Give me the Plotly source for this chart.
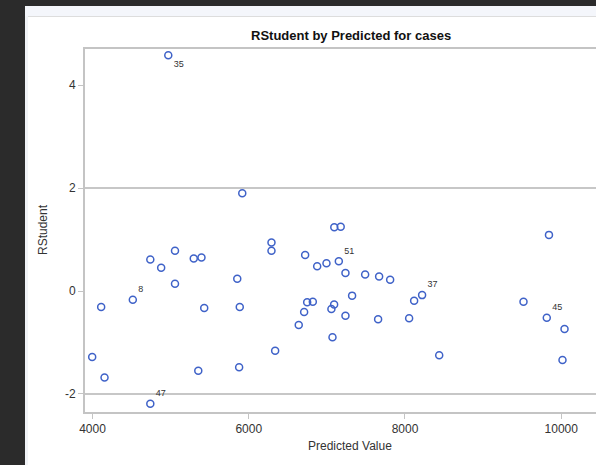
import plotly.graph_objects as go

# ---- data ----
predicted = [4970, 5917, 5056, 4740, 5296, 5395, 4879, 5853, 5056, 4516,
             4111, 5430, 5885, 3996, 4154, 5354, 5877, 4740,
             7095, 7177, 6291, 6291, 6722, 6876, 6995, 7153, 7238, 7490,
             7669, 7810, 8219, 8117, 7323, 6748, 6820, 7093, 7058, 6709,
             7238, 7656, 8053, 6640, 7072, 6338,
             9843, 9517, 9815, 10042, 10016, 8438]
rstudent = [4.58, 1.90, 0.78, 0.61, 0.63, 0.65, 0.45, 0.24, 0.14, -0.17,
            -0.31, -0.33, -0.31, -1.28, -1.68, -1.55, -1.48, -2.19,
            1.24, 1.25, 0.94, 0.78, 0.70, 0.48, 0.54, 0.58, 0.35, 0.32,
            0.28, 0.22, -0.08, -0.19, -0.09, -0.22, -0.21, -0.26, -0.35, -0.41,
            -0.48, -0.55, -0.53, -0.66, -0.90, -1.16,
            1.09, -0.21, -0.52, -0.74, -1.34, -1.25]
case_labels = ["35", "", "", "", "", "", "", "", "", "8",
               "", "", "", "", "", "", "", "47",
               "", "", "", "", "", "", "", "51", "", "",
               "", "", "37", "", "", "", "", "", "", "",
               "", "", "", "", "", "",
               "", "", "45", "", "", ""]
reference_lines = [-2, 2]
x_ticks = [4000, 6000, 8000, 10000]
x_tick_labels = ["4000", "6000", "8000", "10000"]
y_ticks = [-2, 0, 2, 4]
y_tick_labels = ["-2", "0", "2", "4"]

W, H = 596, 465
L, R, T, B = 85, 0, 49, 53
PW, PH = W - L - R, H - T - B

def px_x(p):
    return (p - L) / PW

def px_y(p):
    return (H - B - p) / PH

BLUE = "#3f62c8"
AXIS = "#c4c4c4"
TXT = "#333333"
DARK = "#2b2b2b"
FONT = "Liberation Sans, Arial, sans-serif"

positions = ["bottom right" if l == "35" else "top right" for l in case_labels]

fig = go.Figure(go.Scatter(
    x=predicted, y=rstudent, mode="markers+text",
    text=case_labels, textposition=positions,
    textfont=dict(size=9, color=TXT, family=FONT),
    marker=dict(symbol="circle-open", size=7, color=BLUE,
                line=dict(width=1.5, color=BLUE)),
    cliponaxis=False, showlegend=False, hoverinfo="x+y"))

shapes = []
# dark surroundings and panel header
shapes.append(dict(type="rect", xref="paper", yref="paper", layer="below",
                   x0=px_x(0), x1=px_x(25), y0=px_y(H), y1=px_y(0),
                   fillcolor=DARK, line=dict(width=0)))
shapes.append(dict(type="rect", xref="paper", yref="paper", layer="below",
                   x0=px_x(0), x1=px_x(W), y0=px_y(6), y1=px_y(0),
                   fillcolor=DARK, line=dict(width=0)))
shapes.append(dict(type="rect", xref="paper", yref="paper", layer="below",
                   x0=px_x(25), x1=px_x(W), y0=px_y(16), y1=px_y(6),
                   fillcolor="#f4f6fb", line=dict(width=0)))
shapes.append(dict(type="rect", xref="paper", yref="paper", layer="below",
                   x0=px_x(25), x1=px_x(28), y0=px_y(H), y1=px_y(16),
                   fillcolor="#f1f3f7", line=dict(width=0)))
shapes.append(dict(type="line", xref="paper", yref="paper", layer="below",
                   x0=px_x(28), x1=px_x(W), y0=px_y(16.5), y1=px_y(16.5),
                   line=dict(color="#dddddd", width=1)))
for v in reference_lines:
    shapes.append(dict(type="line", xref="paper", yref="y", layer="below",
                       x0=0, x1=1, y0=v, y1=v,
                       line=dict(color="#b4b4b4", width=1.5)))

annotations = [
    dict(text="<b>RStudent by Predicted for cases</b>", xref="paper", yref="paper",
         x=px_x(351), y=px_y(35), xanchor="center", yanchor="middle",
         showarrow=False, font=dict(size=13, color="#111111", family=FONT)),
    dict(text="Predicted Value", xref="paper", yref="paper",
         x=px_x(350), y=px_y(446), xanchor="center", yanchor="middle",
         showarrow=False, font=dict(size=12, color=TXT, family=FONT)),
    dict(text="RStudent", xref="paper", yref="paper", textangle=-90,
         x=px_x(43), y=px_y(230), xanchor="center", yanchor="middle",
         showarrow=False, font=dict(size=12, color=TXT, family=FONT)),
]

fig.update_layout(
    width=W, height=H,
    margin=dict(l=L, r=R, t=T, b=B, pad=0),
    paper_bgcolor="white", plot_bgcolor="white",
    shapes=shapes, annotations=annotations,
    font=dict(family=FONT, color=TXT, size=12),
    xaxis=dict(range=[3904, 10445], tickvals=x_ticks, ticktext=x_tick_labels,
               showgrid=False, zeroline=False, showline=True, linecolor=AXIS,
               linewidth=2, mirror=True, ticks="outside", ticklen=5,
               tickcolor=AXIS, tickfont=dict(size=12, color=TXT)),
    yaxis=dict(range=[-2.35, 4.70], tickvals=y_ticks, ticktext=y_tick_labels,
               showgrid=False, zeroline=False, showline=True, linecolor=AXIS,
               linewidth=2, ticks="outside", ticklen=5, tickcolor=AXIS,
               tickfont=dict(size=12, color=TXT)),
)

fig.write_html("out.html")
